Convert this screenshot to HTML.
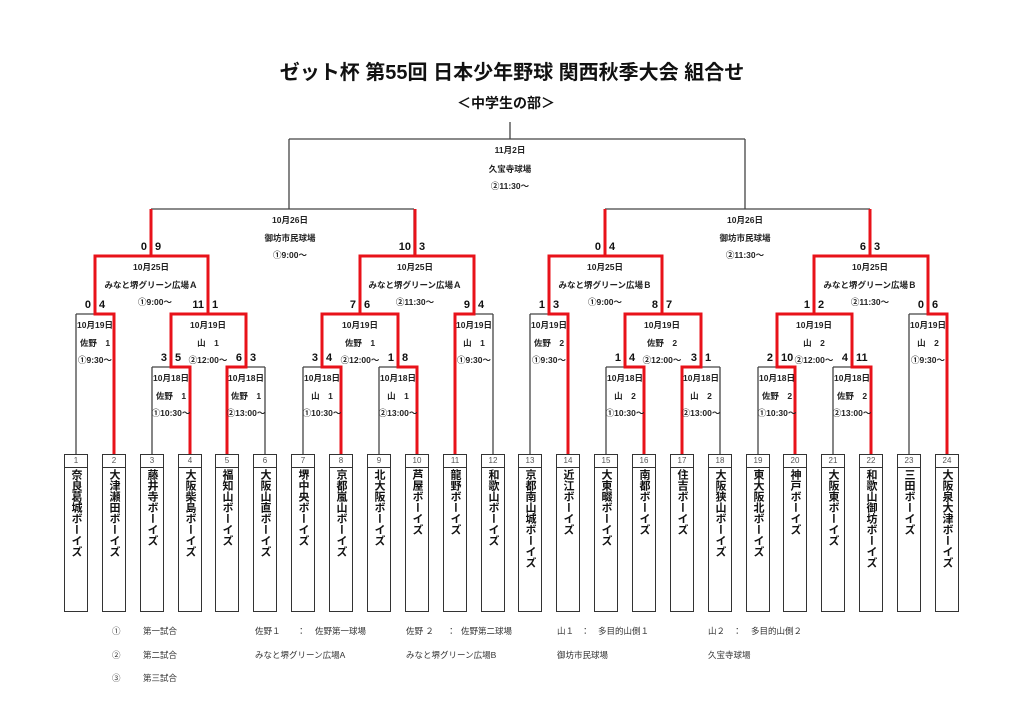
<!DOCTYPE html>
<html><head><meta charset="utf-8"><style>
html,body{margin:0;padding:0;background:#fff;}
body{width:1024px;height:724px;position:relative;overflow:hidden;font-family:"Liberation Sans","Noto Sans CJK JP",sans-serif;}
.t{position:absolute;left:0;width:1024px;text-align:center;font-weight:bold;color:#111;}
.box{position:absolute;top:454px;width:24px;height:158px;border:1.3px solid #333;box-sizing:border-box;background:#fff;}
.num{height:12px;border-bottom:1.2px solid #333;font-size:8px;color:#555;text-align:center;line-height:12px;}
.nm{writing-mode:vertical-rl;font-size:11px;line-height:22px;width:22px;margin:1px auto 0;color:#111;letter-spacing:0;font-weight:bold;}
.lg{position:absolute;font-size:8.5px;color:#333;}
svg{position:absolute;left:0;top:0;}
svg text{font-family:"Liberation Sans","Noto Sans CJK JP",sans-serif;}
</style></head><body>
<div class="t" style="top:56px;font-size:20px;">ゼット杯 第55回 日本少年野球 関西秋季大会 組合せ</div>
<div class="t" style="top:93px;font-size:14px;left:-6px;">＜中学生の部＞</div>

<svg width="1024" height="724" viewBox="0 0 1024 724">
<g stroke="#444" stroke-width="1.3" fill="none">
<path d="M289,139H745M510,122V139M289,139V209M745,139V209"/>
<path d="M151,209H414M151,209V256M414,209V256"/>
<path d="M605,209H870M605,209V256M870,209V256"/>
<path d="M95,256H208M95,256V314M208,256V314"/>
<path d="M76,314H114M76,314V454M114,314V454"/>
<path d="M171,314H246M171,314V367M246,314V367"/>
<path d="M152,367H190M152,367V454M190,367V454"/>
<path d="M227,367H265M227,367V454M265,367V454"/>
<path d="M360,256H474M360,256V314M474,256V314"/>
<path d="M322,314H398M322,314V367M398,314V367"/>
<path d="M303,367H341M303,367V454M341,367V454"/>
<path d="M379,367H417M379,367V454M417,367V454"/>
<path d="M455,314H493M455,314V454M493,314V454"/>
<path d="M549,256H662M549,256V314M662,256V314"/>
<path d="M530,314H568M530,314V454M568,314V454"/>
<path d="M625,314H701M625,314V367M701,314V367"/>
<path d="M606,367H644M606,367V454M644,367V454"/>
<path d="M682,367H720M682,367V454M720,367V454"/>
<path d="M814,256H928M814,256V314M928,256V314"/>
<path d="M777,314H852M777,314V367M852,314V367"/>
<path d="M758,367H795M758,367V454M795,367V454"/>
<path d="M833,367H871M833,367V454M871,367V454"/>
<path d="M909,314H947M909,314V454M947,314V454"/>
</g>
<g stroke="#e8121a" stroke-width="3" fill="none" stroke-linejoin="miter">
<polyline points="114,454 114,314 95,314 95,256 151,256 151,209"/>
<polyline points="190,454 190,367 171,367 171,314 208,314 208,256 151,256"/>
<polyline points="227,454 227,367 246,367 246,314 208,314"/>
<polyline points="341,454 341,367 322,367 322,314 360,314 360,256 415,256 415,209"/>
<polyline points="417,454 417,367 398,367 398,314 360,314"/>
<polyline points="455,454 455,314 474,314 474,256 415,256"/>
<polyline points="568,454 568,314 549,314 549,256 605,256 605,209"/>
<polyline points="644,454 644,367 625,367 625,314 662,314 662,256 605,256"/>
<polyline points="682,454 682,367 701,367 701,314 662,314"/>
<polyline points="795,454 795,367 777,367 777,314 814,314 814,256 870,256 870,209"/>
<polyline points="871,454 871,367 852,367 852,314 814,314"/>
<polyline points="947,454 947,314 928,314 928,256 870,256"/>
</g>
<g font-size="11" font-weight="bold" fill="#111">
<text x="91" y="308" text-anchor="end">0</text><text x="99" y="308">4</text>
<text x="167" y="361" text-anchor="end">3</text><text x="175" y="361">5</text>
<text x="242" y="361" text-anchor="end">6</text><text x="250" y="361">3</text>
<text x="204" y="308" text-anchor="end">11</text><text x="212" y="308">1</text>
<text x="147" y="250" text-anchor="end">0</text><text x="155" y="250">9</text>
<text x="318" y="361" text-anchor="end">3</text><text x="326" y="361">4</text>
<text x="394" y="361" text-anchor="end">1</text><text x="402" y="361">8</text>
<text x="356" y="308" text-anchor="end">7</text><text x="364" y="308">6</text>
<text x="470" y="308" text-anchor="end">9</text><text x="478" y="308">4</text>
<text x="411" y="250" text-anchor="end">10</text><text x="419" y="250">3</text>
<text x="545" y="308" text-anchor="end">1</text><text x="553" y="308">3</text>
<text x="621" y="361" text-anchor="end">1</text><text x="629" y="361">4</text>
<text x="697" y="361" text-anchor="end">3</text><text x="705" y="361">1</text>
<text x="658" y="308" text-anchor="end">8</text><text x="666" y="308">7</text>
<text x="601" y="250" text-anchor="end">0</text><text x="609" y="250">4</text>
<text x="773" y="361" text-anchor="end">2</text><text x="781" y="361">10</text>
<text x="848" y="361" text-anchor="end">4</text><text x="856" y="361">11</text>
<text x="810" y="308" text-anchor="end">1</text><text x="818" y="308">2</text>
<text x="924" y="308" text-anchor="end">0</text><text x="932" y="308">6</text>
<text x="866" y="250" text-anchor="end">6</text><text x="874" y="250">3</text>
</g>
<g font-size="8.5" font-weight="bold" fill="#222" text-anchor="middle">
<text x="510" y="153">11月2日</text><text x="510" y="172">久宝寺球場</text><text x="510" y="189">②11:30～</text>
<text x="290" y="223">10月26日</text><text x="290" y="241">御坊市民球場</text><text x="290" y="258">①9:00～</text>
<text x="745" y="223">10月26日</text><text x="745" y="241">御坊市民球場</text><text x="745" y="258">②11:30～</text>
<text x="151" y="270">10月25日</text><text x="151" y="288">みなと堺グリーン広場Ａ</text><text x="155" y="305">①9:00～</text>
<text x="415" y="270">10月25日</text><text x="415" y="288">みなと堺グリーン広場Ａ</text><text x="415" y="305">②11:30～</text>
<text x="605" y="270">10月25日</text><text x="605" y="288">みなと堺グリーン広場Ｂ</text><text x="605" y="305">①9:00～</text>
<text x="870" y="270">10月25日</text><text x="870" y="288">みなと堺グリーン広場Ｂ</text><text x="870" y="305">②11:30～</text>
<text x="95" y="328">10月19日</text><text x="95" y="346">佐野　1</text><text x="95" y="363">①9:30～</text>
<text x="208" y="328">10月19日</text><text x="208" y="346">山　1</text><text x="208" y="363">②12:00～</text>
<text x="360" y="328">10月19日</text><text x="360" y="346">佐野　1</text><text x="360" y="363">②12:00～</text>
<text x="474" y="328">10月19日</text><text x="474" y="346">山　1</text><text x="474" y="363">①9:30～</text>
<text x="549" y="328">10月19日</text><text x="549" y="346">佐野　2</text><text x="549" y="363">①9:30～</text>
<text x="662" y="328">10月19日</text><text x="662" y="346">佐野　2</text><text x="662" y="363">②12:00～</text>
<text x="814" y="328">10月19日</text><text x="814" y="346">山　2</text><text x="814" y="363">②12:00～</text>
<text x="928" y="328">10月19日</text><text x="928" y="346">山　2</text><text x="928" y="363">①9:30～</text>
<text x="171" y="381">10月18日</text><text x="171" y="399">佐野　1</text><text x="171" y="416">①10:30～</text>
<text x="246" y="381">10月18日</text><text x="246" y="399">佐野　1</text><text x="246" y="416">②13:00～</text>
<text x="322" y="381">10月18日</text><text x="322" y="399">山　1</text><text x="322" y="416">①10:30～</text>
<text x="398" y="381">10月18日</text><text x="398" y="399">山　1</text><text x="398" y="416">②13:00～</text>
<text x="625" y="381">10月18日</text><text x="625" y="399">山　2</text><text x="625" y="416">①10:30～</text>
<text x="701" y="381">10月18日</text><text x="701" y="399">山　2</text><text x="701" y="416">②13:00～</text>
<text x="777" y="381">10月18日</text><text x="777" y="399">佐野　2</text><text x="777" y="416">①10:30～</text>
<text x="852" y="381">10月18日</text><text x="852" y="399">佐野　2</text><text x="852" y="416">②13:00～</text>
</g>
</svg>

<div class="box" style="left:64px"><div class="num">1</div><div class="nm">奈良葛城ボーイズ</div></div>
<div class="box" style="left:102px"><div class="num">2</div><div class="nm">大津瀬田ボーイズ</div></div>
<div class="box" style="left:140px"><div class="num">3</div><div class="nm">藤井寺ボーイズ</div></div>
<div class="box" style="left:178px"><div class="num">4</div><div class="nm">大阪柴島ボーイズ</div></div>
<div class="box" style="left:215px"><div class="num">5</div><div class="nm">福知山ボーイズ</div></div>
<div class="box" style="left:253px"><div class="num">6</div><div class="nm">大阪山直ボーイズ</div></div>
<div class="box" style="left:291px"><div class="num">7</div><div class="nm">堺中央ボーイズ</div></div>
<div class="box" style="left:329px"><div class="num">8</div><div class="nm">京都嵐山ボーイズ</div></div>
<div class="box" style="left:367px"><div class="num">9</div><div class="nm">北大阪ボーイズ</div></div>
<div class="box" style="left:405px"><div class="num">10</div><div class="nm">芦屋ボーイズ</div></div>
<div class="box" style="left:443px"><div class="num">11</div><div class="nm">龍野ボーイズ</div></div>
<div class="box" style="left:481px"><div class="num">12</div><div class="nm">和歌山ボーイズ</div></div>
<div class="box" style="left:518px"><div class="num">13</div><div class="nm">京都南山城ボーイズ</div></div>
<div class="box" style="left:556px"><div class="num">14</div><div class="nm">近江ボーイズ</div></div>
<div class="box" style="left:594px"><div class="num">15</div><div class="nm">大東畷ボーイズ</div></div>
<div class="box" style="left:632px"><div class="num">16</div><div class="nm">南都ボーイズ</div></div>
<div class="box" style="left:670px"><div class="num">17</div><div class="nm">住吉ボーイズ</div></div>
<div class="box" style="left:708px"><div class="num">18</div><div class="nm">大阪狭山ボーイズ</div></div>
<div class="box" style="left:746px"><div class="num">19</div><div class="nm">東大阪北ボーイズ</div></div>
<div class="box" style="left:783px"><div class="num">20</div><div class="nm">神戸ボーイズ</div></div>
<div class="box" style="left:821px"><div class="num">21</div><div class="nm">大阪東ボーイズ</div></div>
<div class="box" style="left:859px"><div class="num">22</div><div class="nm">和歌山御坊ボーイズ</div></div>
<div class="box" style="left:897px"><div class="num">23</div><div class="nm">三田ボーイズ</div></div>
<div class="box" style="left:935px"><div class="num">24</div><div class="nm">大阪泉大津ボーイズ</div></div>

<div class="lg" style="left:112px;top:625px">①</div><div class="lg" style="left:143px;top:625px">第一試合</div>
<div class="lg" style="left:255px;top:625px">佐野１</div><div class="lg" style="left:297px;top:625px">：</div><div class="lg" style="left:315px;top:625px">佐野第一球場</div>
<div class="lg" style="left:406px;top:625px">佐野 ２</div><div class="lg" style="left:447px;top:625px">：</div><div class="lg" style="left:461px;top:625px">佐野第二球場</div>
<div class="lg" style="left:557px;top:625px">山１</div><div class="lg" style="left:581px;top:625px">：</div><div class="lg" style="left:598px;top:625px">多目的山側１</div>
<div class="lg" style="left:708px;top:625px">山２</div><div class="lg" style="left:733px;top:625px">：</div><div class="lg" style="left:751px;top:625px">多目的山側２</div>
<div class="lg" style="left:112px;top:649px">②</div><div class="lg" style="left:143px;top:649px">第二試合</div>
<div class="lg" style="left:255px;top:649px">みなと堺グリーン広場A</div>
<div class="lg" style="left:406px;top:649px">みなと堺グリーン広場B</div>
<div class="lg" style="left:557px;top:649px">御坊市民球場</div>
<div class="lg" style="left:708px;top:649px">久宝寺球場</div>
<div class="lg" style="left:112px;top:672px">③</div><div class="lg" style="left:143px;top:672px">第三試合</div>
</body></html>
